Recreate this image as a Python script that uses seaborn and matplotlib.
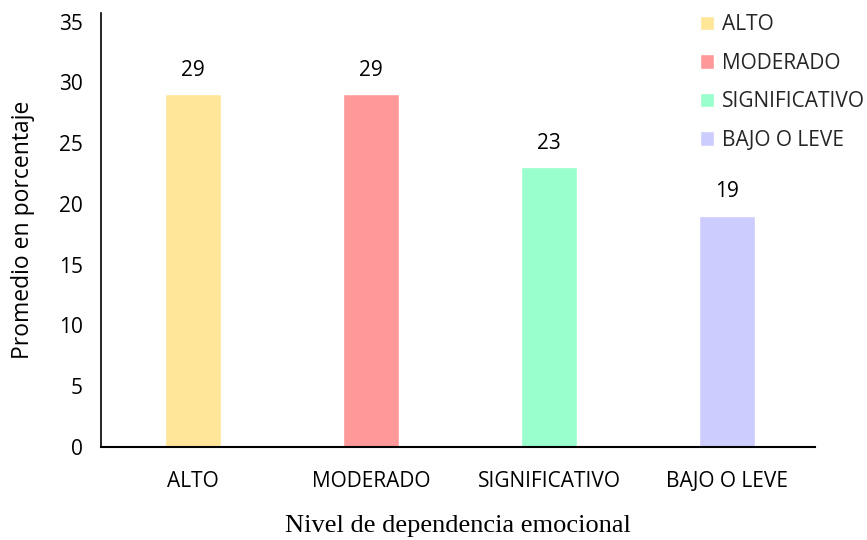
import matplotlib
matplotlib.use("Agg")
import matplotlib.pyplot as plt
import seaborn as sns
import pandas as pd

categories = ["ALTO", "MODERADO", "SIGNIFICATIVO", "BAJO O LEVE"]
values = [29, 29, 23, 19]
colors = ["#FFE699", "#FF9999", "#99FFCC", "#CCCCFF"]
yticks = [0, 5, 10, 15, 20, 25, 30, 35]

sns.set_theme(style="white")
plt.rcParams["font.family"] = ["Open Sans", "DejaVu Sans"]

df = pd.DataFrame({"cat": categories, "val": values})

fig = plt.figure(figsize=(8.67, 5.4), dpi=100)
ax = fig.add_axes([101/867, 1 - 447/540, (815 - 101)/867, (447 - 13)/540])

sns.barplot(data=df, x="cat", y="val", hue="cat", palette=colors,
            width=0.315, saturation=1, legend=True, ax=ax, dodge=False)

ax.set_xlim(-0.517, 3.494)
ax.set_ylim(0, 35.7)
ax.set_yticks(yticks)
ax.set_yticklabels([str(t) for t in yticks])

fs = 15
for c in ax.containers:
    ax.bar_label(c, fmt="%d", padding=10, fontsize=fs, color="black")

for s in ["top", "right"]:
    ax.spines[s].set_visible(False)
ax.spines["left"].set_color("black")
ax.spines["left"].set_linewidth(1.2)
ax.spines["bottom"].set_color("black")
ax.spines["bottom"].set_linewidth(1.5)

ax.tick_params(axis="x", length=0, pad=17, labelsize=fs, labelcolor="black")
ax.tick_params(axis="y", length=0, pad=13, labelsize=fs, labelcolor="black")

ax.set_xlabel("Nivel de dependencia emocional", family="Liberation Serif",
              fontsize=19, labelpad=17, color="black")
ax.set_ylabel("Promedio en porcentaje", fontsize=16.5, labelpad=17, color="black")

handles, labels = ax.get_legend_handles_labels()
ax.legend(handles, labels, loc="upper left", bbox_to_anchor=(0.827, 1.016),
          frameon=False, handlelength=0.7, handleheight=0.7,
          handletextpad=0.35, labelspacing=0.84, fontsize=fs,
          borderaxespad=0)

fig.savefig("out.png", dpi=100, facecolor="white")
